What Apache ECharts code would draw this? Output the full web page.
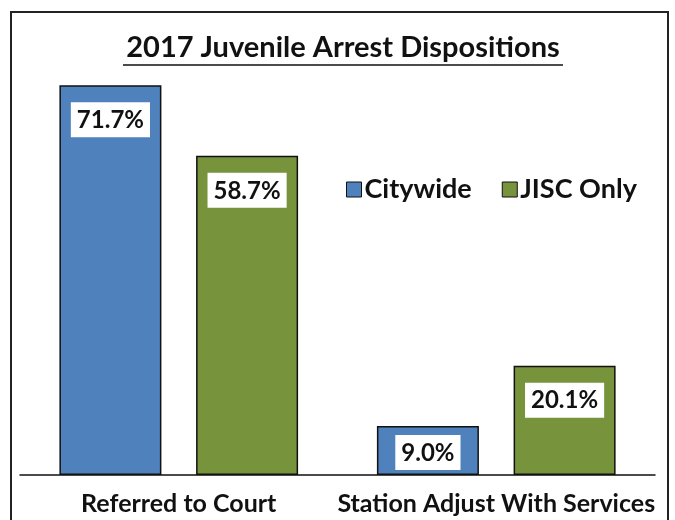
<!DOCTYPE html>
<html>
<head>
<meta charset="utf-8">
<script src="https://cdn.jsdelivr.net/npm/echarts@6/dist/echarts.min.js"></script>
<style>
  html, body { margin: 0; padding: 0; background: #fff; }
  #chart { width: 675px; height: 520px; }
</style>
</head>
<body>
<div id="chart"></div>
<script>
// Arrest disposition shares, 2017
const categories = ['Referred to Court', 'Station Adjust With Services'];
const seriesNames = ['Citywide', 'JISC Only'];
const citywide = [71.7, 9.0];
const jiscOnly = [58.7, 20.1];

const FONT = 'Lato';
const colors = ['#4F81BD', '#77933C'];

function labelled(values) {
  return values.map(function (v) {
    return {
      value: v,
      label: { distance: v < 15 ? 9 : 17 }
    };
  });
}

const labelStyle = {
  show: true,
  position: 'insideTop',
  formatter: function (p) { return p.value.toFixed(1) + '%'; },
  backgroundColor: '#fff',
  padding: [6, 6, 5, 6],
  color: '#111',
  fontFamily: FONT,
  fontWeight: 'bold',
  fontSize: 24
};

const chart = echarts.init(document.getElementById('chart'), null, { renderer: 'canvas' });

chart.setOption({
  animation: false,
  backgroundColor: '#fff',
  graphic: [
    {
      type: 'rect',
      shape: { x: 11, y: 12, width: 657, height: 540 },
      style: { fill: 'none', stroke: '#222', lineWidth: 2 },
      z: 100
    },
    {
      type: 'text',
      style: {
        text: '2017 Juvenile Arrest Dispositions',
        x: 343, y: 48,
        align: 'center', verticalAlign: 'middle',
        fontFamily: FONT, fontWeight: 'bold', fontSize: 29,
        fill: '#111'
      }
    },
    {
      type: 'line',
      shape: { x1: 123, y1: 65, x2: 563, y2: 65 },
      style: { stroke: '#111', lineWidth: 1.5 }
    }
  ],
  legend: {
    data: seriesNames,
    left: 341,
    top: 171,
    itemWidth: 15,
    itemHeight: 15,
    itemGap: 30,
    icon: 'rect',
    textStyle: {
      fontFamily: FONT, fontWeight: 'bold', fontSize: 27, color: '#111',
      padding: [0, 0, 0, -2]
    },
    itemStyle: { borderColor: '#111', borderWidth: 1 }
  },
  grid: { left: 20, right: 20, top: 40, bottom: 45, containLabel: false },
  xAxis: {
    type: 'category',
    data: categories,
    axisLine: { lineStyle: { color: '#111', width: 1.5 } },
    axisTick: { show: false },
    axisLabel: {
      interval: 0,
      hideOverlap: false,
      margin: 16,
      fontFamily: FONT, fontWeight: 'bold', fontSize: 25, color: '#111'
    }
  },
  yAxis: {
    type: 'value',
    min: 0, max: 80,
    show: false,
    splitLine: { show: false }
  },
  series: [
    {
      name: seriesNames[0],
      type: 'bar',
      data: labelled(citywide),
      barWidth: 102,
      barGap: '34%',
      itemStyle: { color: colors[0], borderColor: '#111', borderWidth: 1.5 },
      label: labelStyle
    },
    {
      name: seriesNames[1],
      type: 'bar',
      data: labelled(jiscOnly),
      barWidth: 102,
      barGap: '34%',
      itemStyle: { color: colors[1], borderColor: '#111', borderWidth: 1.5 },
      label: labelStyle
    }
  ]
});
</script>
</body>
</html>
